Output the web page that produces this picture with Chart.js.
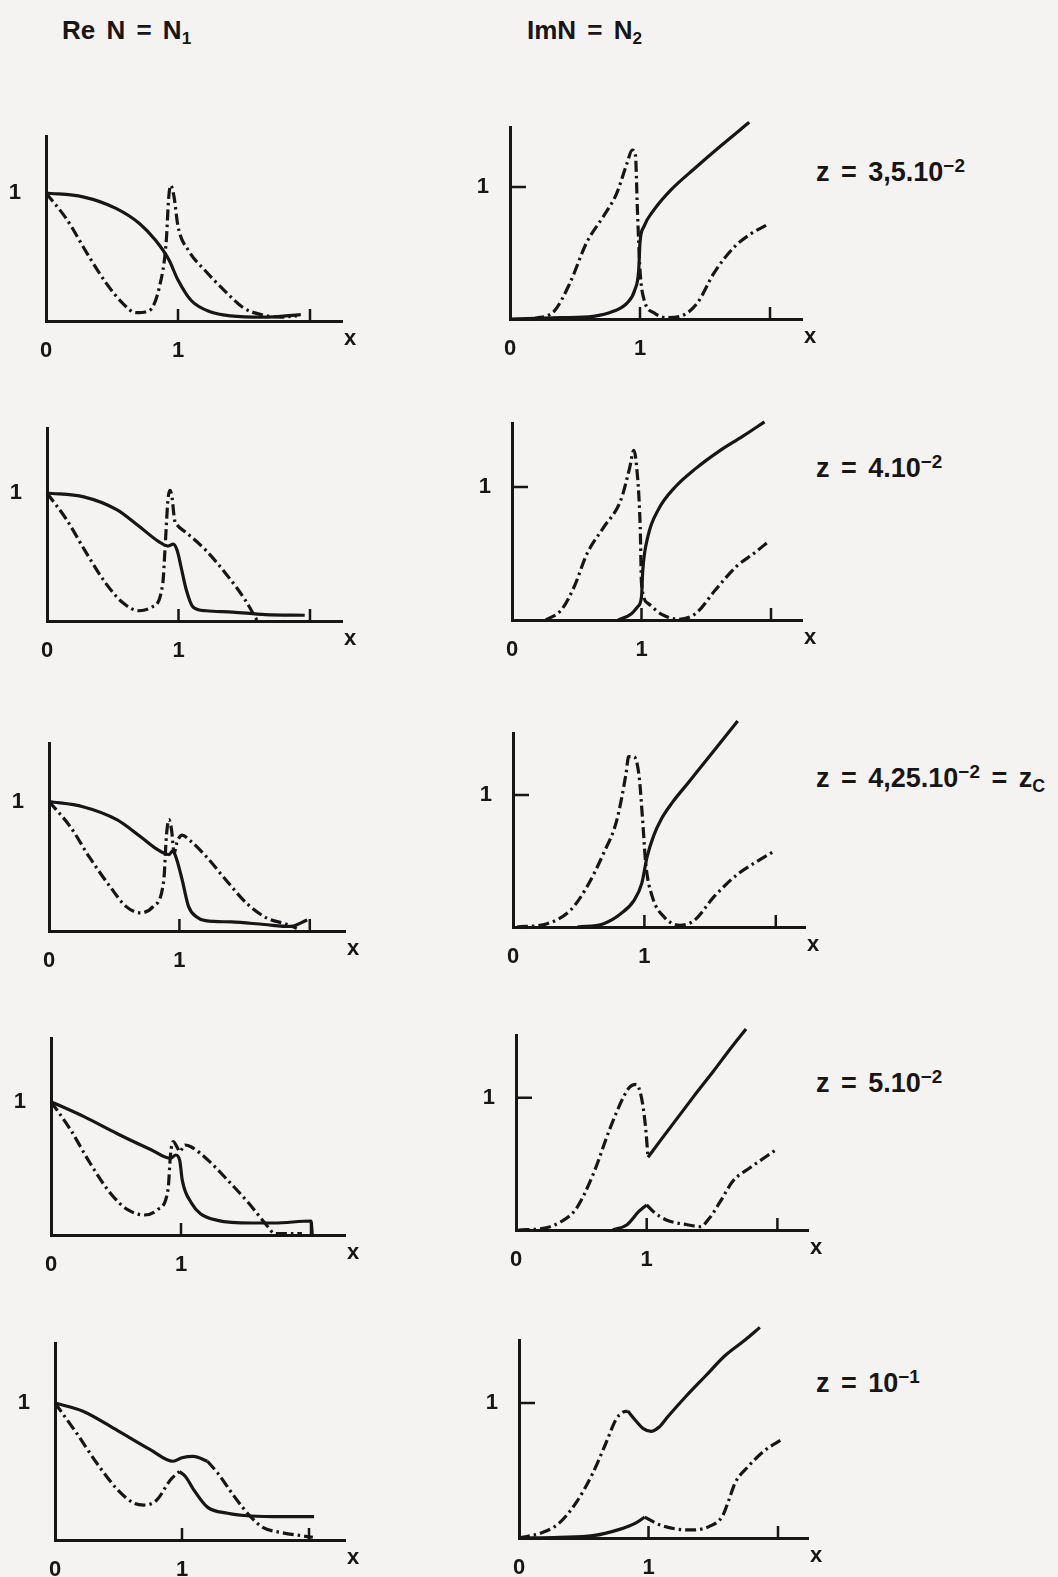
<!DOCTYPE html>
<html>
<head>
<meta charset="utf-8">
<script src="https://cdn.jsdelivr.net/npm/chart.js@4.4.1/dist/chart.umd.min.js"></script>
<style>
  html, body { margin: 0; padding: 0; background: #f5f3f2; }
  #sheet {
    position: relative; width: 1058px; height: 1577px; overflow: hidden;
    font-family: "Liberation Sans", Arial, sans-serif; font-weight: bold; color: #171515;
  }
  #sheet canvas { position: absolute; }
  .lbl { position: absolute; white-space: nowrap; line-height: 1; word-spacing: 4px; }
  .head { font-size: 26px; }
  .zl { font-size: 27px; }
  .sub { font-size: 0.66em; position: relative; top: 0.3em; }
  .sup { font-size: 0.7em; position: relative; top: -0.5em; }
</style>
</head>
<body>
<div id="sheet">
  <div class="lbl head" style="left:62px;top:17px">Re N = N<span class="sub">1</span></div>
  <div class="lbl head" style="left:527px;top:17px">ImN = N<span class="sub">2</span></div>
  <div class="lbl zl" style="left:816px;top:159px">z = 3,5.10<span class="sup">−2</span></div>
  <div class="lbl zl" style="left:816px;top:455px">z = 4.10<span class="sup">−2</span></div>
  <div class="lbl zl" style="left:816px;top:765px">z = 4,25.10<span class="sup">−2</span> =&nbsp;z<span class="sub">C</span></div>
  <div class="lbl zl" style="left:816px;top:1070px">z = 5.10<span class="sup">−2</span></div>
  <div class="lbl zl" style="left:816px;top:1370px">z = 10<span class="sup">−1</span></div>
</div>
<script>
// ---- Re N = N1 : solid and dash-dot branches, one pair per z ----
const re35Solid = [[0,1.0],[0.28,0.97],[0.53,0.88],[0.71,0.76],[0.83,0.63],[0.93,0.48],[1.0,0.32],[1.1,0.16],[1.25,0.07],[1.4,0.04],[1.65,0.03],[1.93,0.05]];
const re35Dash  = [[0,1.0],[0.16,0.79],[0.31,0.53],[0.46,0.29],[0.58,0.14],[0.68,0.065],[0.78,0.08],[0.86,0.27],[0.91,0.61],[0.93,0.97],[0.945,1.06],[0.97,0.97],[1.0,0.74],[1.08,0.55],[1.2,0.40],[1.35,0.24],[1.5,0.10],[1.63,0.05],[1.78,0.03],[1.9,0.04]];

const re40Solid = [[0,1.0],[0.28,0.97],[0.53,0.87],[0.70,0.74],[0.85,0.62],[0.92,0.585],[0.96,0.6],[0.99,0.55],[1.02,0.42],[1.06,0.24],[1.11,0.11],[1.21,0.08],[1.41,0.07],[1.66,0.05],[1.96,0.045]];
const re40Dash  = [[0,1.0],[0.15,0.79],[0.3,0.53],[0.45,0.29],[0.58,0.14],[0.70,0.08],[0.8,0.11],[0.88,0.29],[0.9,0.61],[0.92,0.95],[0.935,1.02],[0.95,0.97],[0.97,0.79],[0.99,0.75],[1.06,0.69],[1.21,0.55],[1.36,0.37],[1.51,0.16],[1.6,0.0]];

const re425Solid = [[0,1.0],[0.26,0.96],[0.52,0.86],[0.70,0.73],[0.83,0.63],[0.92,0.59],[0.95,0.62],[0.98,0.55],[1.02,0.40],[1.07,0.19],[1.13,0.11],[1.2,0.08],[1.4,0.07],[1.65,0.05],[1.85,0.035],[1.98,0.085]];
const re425Dash  = [[0,1.0],[0.16,0.81],[0.31,0.57],[0.47,0.34],[0.59,0.19],[0.70,0.14],[0.8,0.19],[0.88,0.39],[0.9,0.73],[0.92,0.86],[0.94,0.78],[0.96,0.6],[0.98,0.68],[1.02,0.74],[1.08,0.70],[1.21,0.57],[1.36,0.39],[1.52,0.21],[1.67,0.1],[1.83,0.05],[1.9,0.02]];

const re50Solid = [[0,1.0],[0.25,0.89],[0.51,0.76],[0.77,0.64],[0.92,0.575],[0.96,0.6],[0.99,0.56],[1.01,0.41],[1.08,0.24],[1.15,0.16],[1.28,0.11],[1.54,0.09],[1.72,0.09],[2.0,0.105],[2.01,0.0]];
const re50Dash  = [[0,1.0],[0.15,0.79],[0.3,0.54],[0.46,0.31],[0.59,0.19],[0.72,0.15],[0.82,0.19],[0.9,0.34],[0.92,0.61],[0.94,0.7],[0.97,0.66],[0.99,0.625],[1.03,0.675],[1.08,0.66],[1.21,0.56],[1.36,0.41],[1.52,0.24],[1.67,0.06],[1.72,0.01],[1.93,0.01]];

const re100SolidUp  = [[0,1.0],[0.22,0.94],[0.49,0.8],[0.75,0.66],[0.93,0.575],[1.0,0.6],[1.09,0.61],[1.2,0.575]];
const re100DashUp   = [[1.2,0.575],[1.28,0.49],[1.41,0.32],[1.54,0.17],[1.64,0.09],[1.78,0.055],[2.03,0.02]];
const re100DashLow  = [[0,1.0],[0.17,0.78],[0.33,0.56],[0.49,0.37],[0.62,0.27],[0.7,0.255],[0.8,0.29],[0.91,0.44],[0.98,0.5]];
const re100SolidLow = [[0.98,0.5],[1.03,0.46],[1.09,0.37],[1.2,0.24],[1.36,0.195],[1.54,0.175],[1.8,0.17],[2.04,0.17]];

// ---- Im N = N2 ----
const im35Solid = [[0,0],[0.39,0.01],[0.64,0.02],[0.8,0.06],[0.9,0.12],[0.96,0.22],[0.99,0.37],[1.0,0.58],[1.03,0.70],[1.11,0.83],[1.24,0.98],[1.42,1.14],[1.62,1.31],[1.84,1.49]];
const im35Dash  = [[0.18,0],[0.34,0.06],[0.46,0.27],[0.59,0.58],[0.72,0.78],[0.82,0.95],[0.9,1.18],[0.94,1.28],[0.965,1.24],[0.98,0.83],[1.0,0.37],[1.03,0.15],[1.11,0.045],[1.21,0.01],[1.31,0.02],[1.44,0.12],[1.57,0.35],[1.73,0.55],[1.86,0.65],[1.97,0.71]];

const im40Solid = [[0.82,0],[0.92,0.045],[0.97,0.1],[1.0,0.175],[1.01,0.375],[1.05,0.63],[1.13,0.83],[1.26,1.0],[1.42,1.14],[1.6,1.27],[1.78,1.38],[1.95,1.49]];
const im40Dash  = [[0.26,0],[0.38,0.075],[0.48,0.25],[0.58,0.5],[0.71,0.7],[0.84,0.9],[0.91,1.15],[0.94,1.275],[0.96,1.175],[0.99,0.7],[1.0,0.275],[1.05,0.125],[1.16,0.04],[1.29,0.005],[1.42,0.05],[1.57,0.225],[1.73,0.4],[1.88,0.51],[1.98,0.59]];

const im425Solid = [[0.49,0],[0.69,0.025],[0.82,0.1],[0.92,0.2],[0.98,0.33],[1.02,0.53],[1.07,0.69],[1.13,0.82],[1.21,0.94],[1.34,1.1],[1.5,1.3],[1.71,1.56]];
const im425Dash  = [[0.03,0],[0.26,0.025],[0.44,0.13],[0.56,0.3],[0.69,0.56],[0.79,0.81],[0.86,1.16],[0.88,1.29],[0.92,1.29],[0.96,1.14],[0.99,0.76],[1.01,0.48],[1.06,0.23],[1.15,0.076],[1.27,0.013],[1.38,0.05],[1.53,0.23],[1.71,0.4],[1.88,0.51],[1.98,0.57]];

const im50DashUp   = [[0.02,0],[0.21,0.013],[0.34,0.06],[0.46,0.16],[0.59,0.42],[0.72,0.77],[0.82,1.0],[0.87,1.08],[0.92,1.1],[0.96,1.0],[0.99,0.79],[1.01,0.55]];
const im50SolidUp  = [[1.01,0.55],[1.1,0.67],[1.23,0.84],[1.36,1.01],[1.51,1.2],[1.64,1.37],[1.76,1.52]];
const im50SolidLow = [[0.74,0],[0.85,0.04],[0.94,0.14],[1.0,0.19]];
const im50DashLow  = [[1.0,0.19],[1.05,0.14],[1.15,0.076],[1.31,0.04],[1.41,0.025],[1.48,0.09],[1.56,0.21],[1.66,0.37],[1.79,0.47],[1.98,0.6]];

const im100DashUp   = [[0,0],[0.18,0.04],[0.31,0.11],[0.44,0.26],[0.57,0.48],[0.67,0.7],[0.75,0.88],[0.8,0.93],[0.84,0.94]];
const im100SolidUp  = [[0.84,0.94],[0.9,0.87],[0.96,0.81],[1.02,0.79],[1.08,0.82],[1.15,0.9],[1.29,1.05],[1.44,1.2],[1.59,1.35],[1.75,1.47],[1.86,1.56]];
const im100SolidLow = [[0,0],[0.31,0.005],[0.57,0.017],[0.77,0.062],[0.9,0.11],[0.97,0.155]];
const im100DashLow  = [[0.97,0.155],[1.08,0.1],[1.21,0.067],[1.34,0.06],[1.47,0.086],[1.57,0.16],[1.62,0.28],[1.67,0.41],[1.77,0.53],[1.9,0.65],[2.03,0.73]];

// Axis labels
const xTickLabels = { 0: '0', 1: '1' };
const xTickMarks = [1, 2];
const yTickLabel = '1';
const xAxisName = 'x';

// ---- drawing ----
const INK = '#171515';
const FONT = '"Liberation Sans", Arial, sans-serif';
const DASH_DOT = [11, 4, 2.5, 4];

// Frame of each panel on the sheet: origin, pixels per unit, axis extents.
const panels = [
  { frame: { ox: 46,  oy: 321,  ux: 132,   uy: 128,   top: 136,  end: 342 }, yMark: false, curves: [[re35Solid, 's'], [re35Dash, 'd']] },
  { frame: { ox: 510, oy: 319,  ux: 130,   uy: 132,   top: 127,  end: 802 }, yMark: true,  curves: [[im35Solid, 's'], [im35Dash, 'd']] },
  { frame: { ox: 47,  oy: 621,  ux: 131.5, uy: 128,   top: 428,  end: 342 }, yMark: false, curves: [[re40Solid, 's'], [re40Dash, 'd']] },
  { frame: { ox: 512, oy: 620,  ux: 129.5, uy: 133,   top: 423,  end: 802 }, yMark: true,  curves: [[im40Solid, 's'], [im40Dash, 'd']] },
  { frame: { ox: 49,  oy: 931,  ux: 130.4, uy: 129.5, top: 743,  end: 345 }, yMark: false, curves: [[re425Solid, 's'], [re425Dash, 'd']] },
  { frame: { ox: 513, oy: 927,  ux: 131.4, uy: 132,   top: 733,  end: 805 }, yMark: true,  curves: [[im425Solid, 's'], [im425Dash, 'd']] },
  { frame: { ox: 51,  oy: 1235, ux: 130,   uy: 133.3, top: 1038, end: 345 }, yMark: false, curves: [[re50Solid, 's'], [re50Dash, 'd']] },
  { frame: { ox: 516, oy: 1230, ux: 130.7, uy: 132.3, top: 1035, end: 808 }, yMark: true,  curves: [[im50DashUp, 'd'], [im50SolidUp, 's'], [im50SolidLow, 's'], [im50DashLow, 'd']] },
  { frame: { ox: 55,  oy: 1540, ux: 127,   uy: 137,   top: 1343, end: 345 }, yMark: false, curves: [[re100SolidUp, 's'], [re100DashUp, 'd'], [re100DashLow, 'd'], [re100SolidLow, 's']] },
  { frame: { ox: 519, oy: 1538, ux: 129.5, uy: 135,   top: 1340, end: 808 }, yMark: true,  curves: [[im100DashUp, 'd'], [im100SolidUp, 's'], [im100SolidLow, 's'], [im100DashLow, 'd']] }
];

const LW = 48;   // room for the y label
const TP = 40;   // headroom above the axis for curves that run past it
const RP = 34;   // room for the axis name
const BH = 45;   // room for the x labels

// Inside tick marks and the axis name "x"
const axisMarks = {
  id: 'axisMarks',
  afterDraw(chart, args, opts) {
    const { ctx, chartArea: a, scales: { x, y } } = chart;
    ctx.save();
    ctx.strokeStyle = INK;
    ctx.lineWidth = 2.5;
    ctx.beginPath();
    xTickMarks.forEach(v => {
      const px = x.getPixelForValue(v);
      ctx.moveTo(px, a.bottom);
      ctx.lineTo(px, a.bottom - 12);
    });
    if (opts.yMark) {
      const py = y.getPixelForValue(1);
      ctx.moveTo(a.left, py);
      ctx.lineTo(a.left + 16, py);
    }
    ctx.stroke();
    ctx.fillStyle = INK;
    ctx.font = 'bold 22px ' + FONT;
    ctx.textAlign = 'center';
    ctx.textBaseline = 'middle';
    ctx.fillText(xAxisName, a.right + 8, a.bottom + 18);
    ctx.restore();
  }
};

const sheet = document.getElementById('sheet');

panels.forEach(p => {
  const f = p.frame;
  const plotW = f.end - f.ox;
  const plotH = f.oy - f.top;
  const cv = document.createElement('canvas');
  cv.width = LW + plotW + RP;
  cv.height = TP + plotH + BH;
  cv.style.left = (f.ox - LW) + 'px';
  cv.style.top = (f.top - TP) + 'px';
  sheet.appendChild(cv);

  const datasets = p.curves.map(([pts, kind]) => ({
    data: pts.map(([x, y]) => ({ x, y })),
    borderColor: INK,
    borderWidth: 3.2,
    borderDash: kind === 'd' ? DASH_DOT : [],
    borderCapStyle: 'butt',
    borderJoinStyle: 'round',
    pointRadius: 0,
    fill: false,
    cubicInterpolationMode: 'monotone',
    clip: false
  }));

  new Chart(cv, {
    type: 'line',
    data: { datasets },
    options: {
      responsive: false,
      animation: false,
      events: [],
      layout: { padding: { top: TP, right: RP, left: 0, bottom: 0 } },
      plugins: { legend: { display: false }, tooltip: { enabled: false }, axisMarks: { yMark: p.yMark } },
      scales: {
        x: {
          type: 'linear', min: 0, max: plotW / f.ux,
          grid: { display: false, drawTicks: false, tickLength: 0 },
          border: { display: true, color: INK, width: 3 },
          afterBuildTicks: s => { s.ticks = [{ value: 0 }, { value: 1 }]; },
          ticks: {
            color: INK, padding: 17, autoSkip: false, maxRotation: 0,
            font: { family: FONT, size: 22, weight: 'bold' },
            callback: v => xTickLabels[v] ?? ''
          },
          afterFit: s => { s.height = BH; }
        },
        y: {
          type: 'linear', min: 0, max: plotH / f.uy,
          grid: { display: false, drawTicks: false, tickLength: 0 },
          border: { display: true, color: INK, width: 3 },
          afterBuildTicks: s => { s.ticks = [{ value: 1 }]; },
          ticks: {
            color: INK, padding: p.yMark ? 21 : 25, autoSkip: false,
            font: { family: FONT, size: 22, weight: 'bold' },
            callback: () => yTickLabel
          },
          afterFit: s => { s.width = LW; }
        }
      }
    },
    plugins: [axisMarks]
  });
});
</script>
</body>
</html>
